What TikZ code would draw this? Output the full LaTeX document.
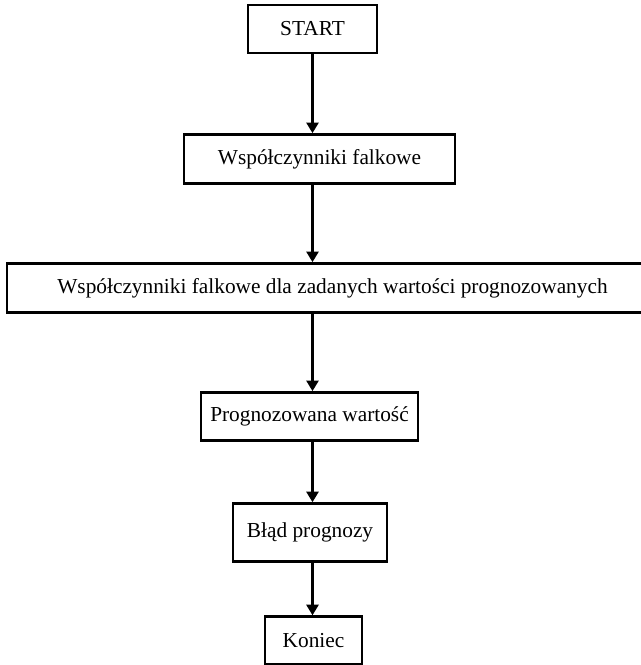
\documentclass[tikz,border=0pt]{standalone}
\usepackage{fontspec}
\setmainfont{Liberation Serif}
\usetikzlibrary{arrows.meta,positioning}

\begin{document}
\begin{tikzpicture}[
    x=0.75pt, y=0.75pt,
    node distance=60pt,
    box/.style={draw, line width=1.8pt, inner sep=0pt, align=center, minimum height=36pt, font=\fontsize{16}{19}\selectfont},
    line/.style={-{Triangle[length=8pt,width=9pt]}, line width=2pt}
]
    \useasboundingbox (0,0) rectangle (641,665);
    \node[box, minimum width=96.75pt] (start) at (312.5,636) {START};
    \node[box, below=59.25pt of start, xshift=5.25pt, minimum width=203.25pt, minimum height=36.75pt] (wsp) {Współczynniki falkowe};
    \node[box, below=58.2pt of wsp, xshift=9.75pt, minimum width=488.25pt, minimum height=36.75pt] (wspzad) {Współczynniki falkowe dla zadanych wartości prognozowanych};
    \node[box, below=58.2pt of wspzad, xshift=-17.25pt, minimum width=162.75pt] (prog) {Prognozowana wartość};
    \node[box, below=45.5pt of prog, xshift=0.4pt, minimum width=115.5pt, minimum height=43.5pt] (blad) {Błąd prognozy};
    \node[box, below=39.5pt of blad, xshift=2.6pt, minimum width=72.75pt] (koniec) {Koniec};

    \draw[line] (start) -- (start |- wsp.north);
    \draw[line] (start.south |- wsp.south) -- (start.south |- wspzad.north);
    \draw[line] (start.south |- wspzad.south) -- (start.south |- prog.north);
    \draw[line] (start.south |- prog.south) -- (start.south |- blad.north);
    \draw[line] (start.south |- blad.south) -- (start.south |- koniec.north);
\end{tikzpicture}
\end{document}
